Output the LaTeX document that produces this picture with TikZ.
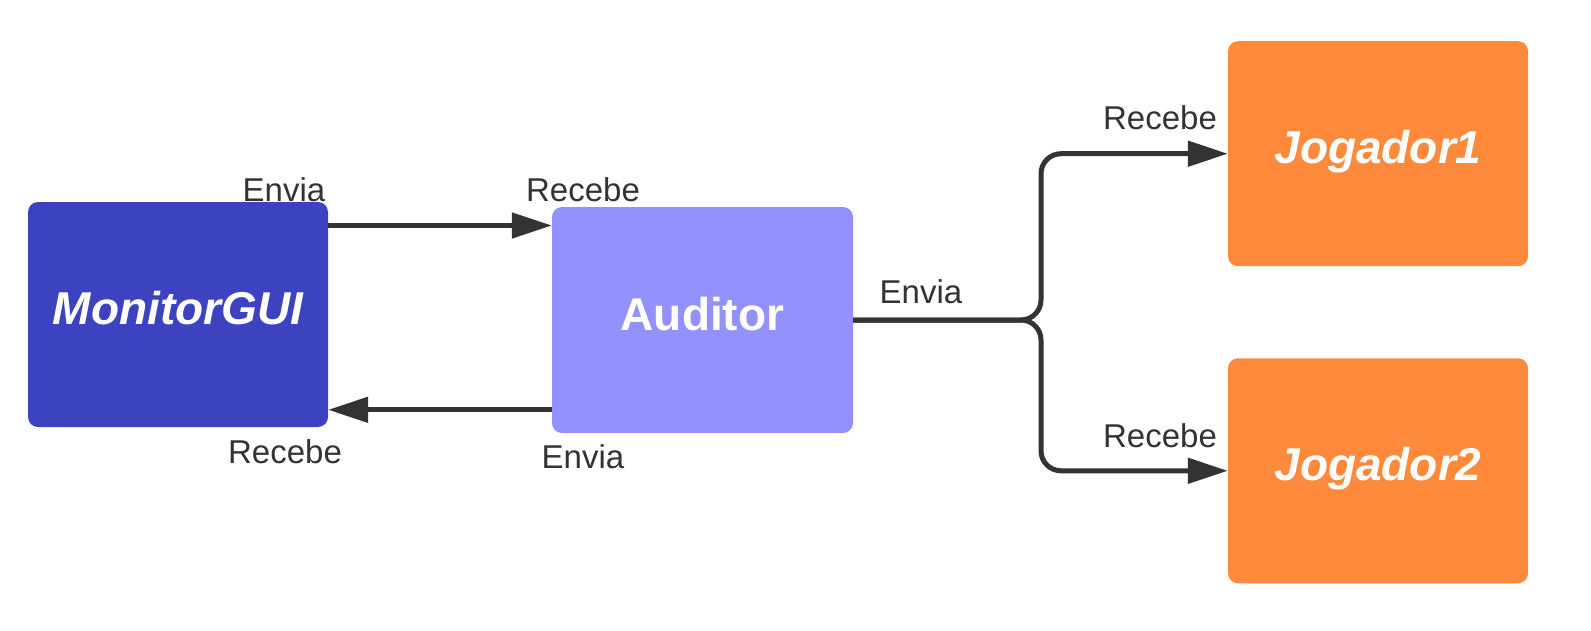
\documentclass[tikz,border=0pt]{standalone}
\usepackage{fontspec}
\setmainfont{Liberation Sans}
\usetikzlibrary{arrows.meta,calc}
\definecolor{monblue}{HTML}{3D43C0}
\definecolor{audviolet}{HTML}{9391FE}
\definecolor{jogorange}{HTML}{FF8A3B}
\definecolor{ink}{HTML}{333333}
\tikzset{
  box/.style={rounded corners=10pt, minimum width=300pt, minimum height=225pt,
    inner sep=0pt, text=white, font=\fontsize{46}{55}\selectfont\bfseries,
    text height=33pt, text depth=13pt},
  lbl/.style={inner sep=0pt, text=ink, font=\fontsize{33}{40}\selectfont},
  conn/.style={draw=ink, line width=5pt, -{Triangle[length=40pt,width=25pt]}}
}
\begin{document}
\begin{tikzpicture}[x=1pt,y=-1pt]
\useasboundingbox (0,0) rectangle (1591,630);
\node[box, fill=monblue] (mon) at (178,314.5) {\itshape MonitorGUI};
\node[box, fill=audviolet, minimum width=301pt, minimum height=226pt] (aud) at (702.5,320) {Auditor};
\node[box, fill=jogorange] (j1) at (1378,153.7) {\itshape Jogador1};
\node[box, fill=jogorange] (j2) at (1378,470.8) {\itshape Jogador2};
\coordinate (t1) at ($(mon.north east)+(0,23.7)$);
\coordinate (b1) at ($(aud.north west)+(0,203)$);
\draw[conn] (t1) -- (t1 -| aud.west);
\draw[conn] (b1) -- (b1 -| mon.east);
\coordinate (split) at (1041,320);
\draw[conn, rounded corners=20pt] (aud.east) -- (split) -- (split |- j1.west) -- (j1.west);
\draw[conn, rounded corners=20pt] (aud.east) -- (split) -- (split |- j2.west) -- (j2.west);
\node[lbl] (l1) at (284,190) {Envia};
\node[lbl] (l2) at (583,190) {Recebe};
\node[lbl] (l3) at (285,452) {Recebe};
\node[lbl] (l4) at (583,457) {Envia};
\node[lbl] (l5) at (921,292) {Envia};
\node[lbl] (l6) at (1160,117.5) {Recebe};
\node[lbl] (l7) at (1160,436) {Recebe};
\end{tikzpicture}
\end{document}
